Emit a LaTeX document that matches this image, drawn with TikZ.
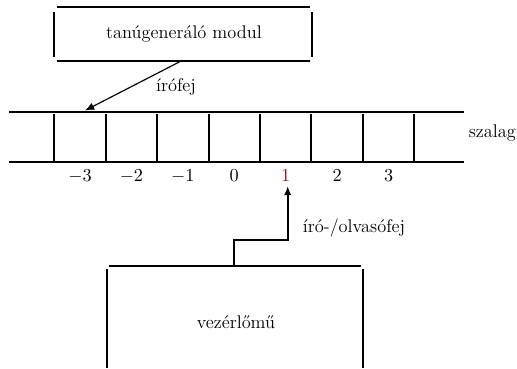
\documentclass[tikz,border=0pt]{standalone}
\usetikzlibrary{arrows.meta}
\definecolor{headred}{rgb}{0.62,0.08,0.08}
\newcommand{\figfont}{\fontsize{11pt}{13pt}\selectfont}
\begin{document}
\begin{tikzpicture}[x=0.6pt,y=-0.6pt,
  edge/.style={line width=1.2pt},
  thinarrow/.style={line width=0.7pt,-{Latex[length=5.5pt,width=4.5pt]}},
  thickarrow/.style={line width=1.1pt,-{Latex[length=5.5pt,width=4.5pt]}},
  lbl/.style={inner sep=0pt,font=\figfont},
  cell/.style={inner sep=0pt,anchor=base,font=\figfont}]
\useasboundingbox (0,0) rectangle (517,368);

% pattern generator module (drawn as four separate strokes)
\node[lbl] (gen) at (184,34) {tanúgeneráló modul};
\draw[edge] (56.7,7.3) -- (310,7.3);
\draw[edge] (56.7,60.7) -- (310,60.7);
\draw[edge] (54.3,12) -- (54.3,57);
\draw[edge] (312,12) -- (312,57);
\coordinate (genout) at (181.7,60.7);

% tape
\draw[edge] (9.3,111.7) -- (464.3,111.7);
\draw[edge] (9.3,162.3) -- (464.3,162.3);
\foreach \i in {0,...,7}
  \draw[edge] ({54.3+\i*51.43},114) -- ({54.3+\i*51.43},160.5);
\node[lbl] (tape) at (492.3,133) {szalag};
\coordinate (writepos) at (85,110.5);

% cell indices
\foreach \n/\t [count=\k from 0] in {m3/$-3$,m2/$-2$,m1/$-1$,z/$0$,p2/{},p3/$2$,p4/$3$}
  \node[cell] (c\n) at ({80+\k*51.43},181.7) {\t};
\node[cell,text=headred] (cp1) at ({80+4*51.43},181.7) {$1$};

% write head
\draw[thinarrow] (genout) -- (writepos);
\node[lbl] (wlabel) at (176,87) {írófej};

% control unit (open at the bottom)
\draw[edge] (109.3,265.7) -- (361,265.7);
\draw[edge] (106.7,269) -- (106.7,368);
\draw[edge] (363.3,269) -- (363.3,368);
\node[lbl] (ctrl) at (236,322) {vezérlőmű};
\coordinate (ctrlout) at (234.3,265.7);
\coordinate (readpos) at (287.7,186);

% read/write head
\draw[thickarrow] (ctrlout) |- (287.7,240) -- (readpos);
\node[lbl] (rwlabel) at (354,228) {író-/olvasófej};
\end{tikzpicture}
\end{document}
